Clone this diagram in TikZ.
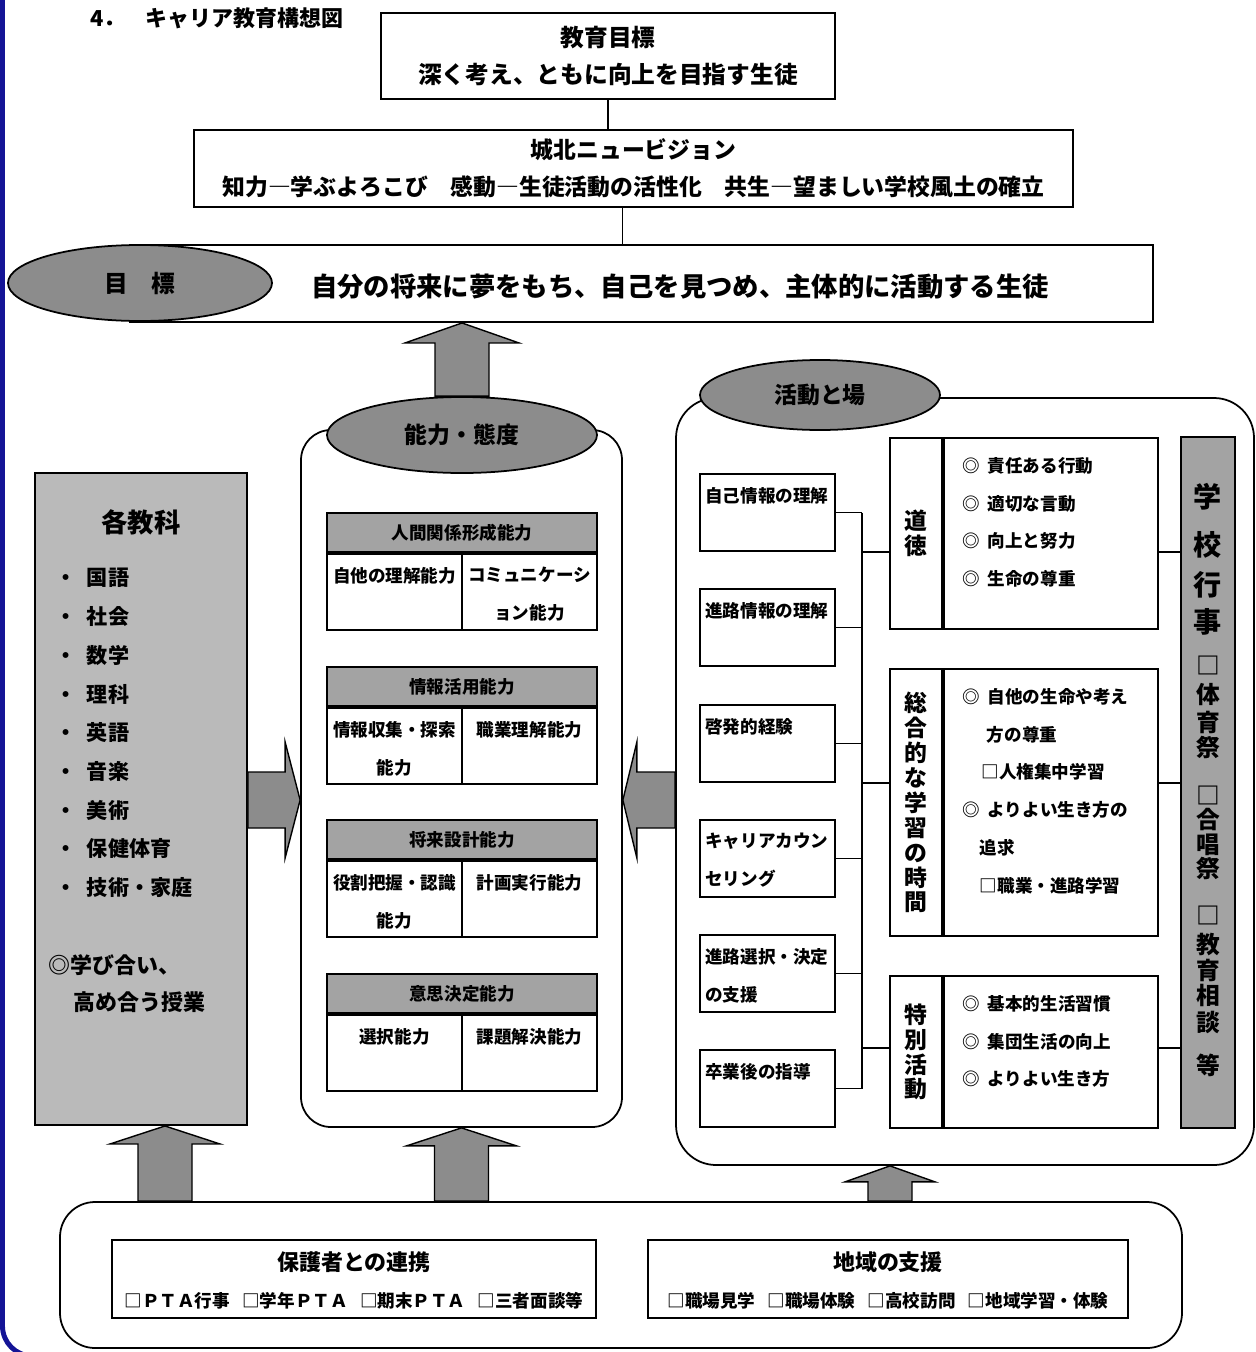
\documentclass[tikz,border=0pt]{standalone}
\usepackage{fontspec}
\setmainfont{Noto Sans CJK JP}
\usepackage{tikz}
\usetikzlibrary{calc,positioning,shapes.geometric}
\definecolor{frameblue}{RGB}{20,20,150}
\newcommand{\maru}{◎\hspace{0.45em}}
\newcommand{\blkup}[5]{\filldraw[blk] (#1) -- ($(#1)+(#4,#5)$) -- ($(#1)+(#3,#5)$) -- ($(#2)+(#3,0)$) -- ($(#2)+(-#3,0)$) -- ($(#1)+(-#3,#5)$) -- ($(#1)+(-#4,#5)$) -- cycle;}
\newcommand{\blkh}[5]{\filldraw[blk] (#1) -- ($(#1)+(#5,#4)$) -- ($(#1)+(#5,#3)$) -- ($(#2)+(0,#3)$) -- ($(#2)+(0,-#3)$) -- ($(#1)+(#5,-#3)$) -- ($(#1)+(#5,-#4)$) -- cycle;}
\tikzset{
 sz/.style 2 args={minimum width=#1*0.02cm, minimum height=#2*0.02cm},
 box/.style={draw, line width=1.1pt, inner sep=0pt},
 panel/.style={draw, line width=1pt, inner sep=0pt},
 shdA/.style={fill=black!36},
 shdB/.style={fill=black!27},
 oval/.style={ellipse, draw, line width=1pt, fill=black!45, inner sep=0pt},
 blk/.style={draw, line width=0.8pt, fill=black!45},
 wire/.style={line width=1pt},
 t10/.style={inner sep=0pt, font=\bfseries\fontsize{10}{21.5}\selectfont},
 t12/.style={inner sep=0pt, font=\bfseries\fontsize{12}{14}\selectfont},
 t125/.style={inner sep=0pt, font=\bfseries\fontsize{12.5}{21}\selectfont},
 t13/.style={inner sep=0pt, font=\bfseries\fontsize{13}{21}\selectfont},
 t135/.style={inner sep=0pt, font=\bfseries\fontsize{13.5}{21.5}\selectfont},
 t15/.style={inner sep=0pt, font=\bfseries\fontsize{15}{18}\selectfont},
 t16/.style={inner sep=0pt, font=\bfseries\fontsize{16}{18}\selectfont},
 vt/.style={inner sep=0pt, align=center, font=\bfseries\fontsize{13}{14.2}\selectfont}
}
\begin{document}
\begin{tikzpicture}[x=0.02cm, y=-0.02cm]
 \useasboundingbox (0,0) rectangle (1256,1352);
 \draw[frameblue, line width=2.8pt, rounded corners=0.6cm] (2.5,-20) -- (2.5,1356) -- (100,1356);
 \node[t125, anchor=west] (title) at (90,18) {4．\hspace{0.9em}キャリア教育構想図};

 \node[box, sz={454}{86}, align=center, t135] (aim) at (608,56) {教育目標\\深く考え、ともに向上を目指す生徒};
 \node[box, sz={879}{77}, align=center, t13] (vision) at (633.5,168.5) {城北ニュービジョン\\知力―学ぶよろこび　感動―生徒活動の活性化　共生―望ましい学校風土の確立};
 \draw[wire] (aim.south) -- (aim.south |- vision.north);
 \node[box, sz={1023}{77}] (goal) at (641.5,283.5) {};
 \node[t15] (goaltxt) at (680,287) {自分の将来に夢をもち、自己を見つめ、主体的に活動する生徒};
 \draw[wire] ($(vision.south)+(-11,0)$) -- ($(vision.south |- goal.north)+(-11,0)$);
 \node[oval, sz={264}{76}, t135] (goaloval) at (140,283) {目　標};

 % abilities
 \node[panel, sz={321}{697}, rounded corners=0.6cm] (ability) at (461.5,778.5) {};
 \node[oval, sz={270}{76}, t13] (abioval) at (462,435) {能力・態度};
 \blkup{abioval.north |- goal.south}{abioval.north}{27}{57}{20}
 \foreach \y/\hd/\la/\lb [count=\i] in {513/人間関係形成能力/自他の理解能力/{コミュニケーシ\\ョン能力},
   667/情報活用能力/{情報収集・探索\\能力}/職業理解能力,
   820/将来設計能力/{役割把握・認識\\能力}/計画実行能力,
   974/意思決定能力/選択能力/課題解決能力}{
  \node[box, shdA, sz={270}{39}, t10] (hd\i) at (462,\y+19.5) {\hd};
  \node[box, sz={135}{76}, anchor=north west] (ca\i) at (hd\i.south west) {};
  \node[box, sz={135}{76}, anchor=north east] (cb\i) at (hd\i.south east) {};
  \node[t10, align=center, anchor=north] (la\i) at ($(ca\i.north)+(0,14)$) {\la};
  \node[t10, align=center, anchor=north] (lb\i) at ($(cb\i.north)+(0,14)$) {\lb};
 }

 % subjects
 \node[box, shdB, sz={212}{652}] (subj) at (141,799) {};
 \node[t15] (subjttl) at (141,522) {各教科};
 \foreach \s [count=\k] in {国語,社会,数学,理科,英語,音楽,美術,保健体育,技術・家庭}
  \node[t12, anchor=west] (sub\k) at (55,539.3+\k*38.7) {・\hspace{0.5em}\s};
 \node[t125, anchor=west] (manabi) at (48,965) {◎学び合い、};
 \node[t125, anchor=west] (takame) at (73,1002) {高め合う授業};

 % activities
 \node[panel, sz={578}{767}, rounded corners=0.8cm] (act) at (965,781.5) {};
 \node[oval, sz={240}{70}, t13] (actoval) at (820,395) {活動と場};
 \node[box, shdA, sz={54}{691}] (gyoji) at (1208,782.5) {};
 \foreach \c/\y [count=\k] in {学/497,校/545,行/585,事/622}
  \node[t16] (gy\k) at (1208,\y) {\c};
 \foreach \c/\y [count=\k] in {□/665,体/695,育/722,祭/748,□/795,合/820,唱/845,祭/868,□/915,教/945,育/970,相/995,談/1022,等/1065}
  \node[t135] (ev\k) at (1208,\y) {\c};

 \coordinate (bus) at (862,0);
 \foreach \y/\t [count=\i] in {474/自己情報の理解, 589/進路情報の理解, 705/啓発的経験, 820/{キャリアカウン\\セリング}, 935/{進路選択・決定\\の支援}, 1050/卒業後の指導}{
  \node[box, sz={135}{77}] (s\i) at (767.5,\y+38.5) {};
  \node[t10, align=left, anchor=north west] (st\i) at ($(s\i.north west)+(6,14)$) {\t};
  \draw[wire] (s\i.east) -- (s\i.east -| bus);
 }
 \draw[wire] (s1.east -| bus) -- (s6.east -| bus);

 \foreach \y/\h/\j/\n/\c [count=\i] in {
   437/191/552/{道\\徳}/{\maru 責任ある行動\\\maru 適切な言動\\\maru 向上と努力\\\maru 生命の尊重},
   668/267/783/{総\\合\\的\\な\\学\\習\\の\\時\\間}/{\maru 自他の生命や考え\\\hspace*{1.4em}方の尊重\\\hspace*{1.1em}□人権集中学習\\\maru よりよい生き方の\\\hspace*{1em}追求\\\hspace*{1em}□職業・進路学習},
   975/152/1048/{特\\別\\活\\動}/{\maru 基本的生活習慣\\\maru 集団生活の向上\\\maru よりよい生き方}}{
  \node[box, sz={52}{\h}, anchor=north west] (nm\i) at (889,\y) {};
  \node[box, sz={214}{\h}, anchor=north west] (ct\i) at (nm\i.north east) {};
  \node[vt] (nt\i) at (nm\i.center) {\n};
  \node[t10, align=left, anchor=north west] (cl\i) at ($(ct\i.north west)+(19,20)$) {\c};
  \draw[wire] (bus |- 0,\j) -- (nm\i.west |- 0,\j);
  \draw[wire] (ct\i.east |- 0,\j) -- (gyoji.west |- 0,\j);
 }

 \blkh{ability.west |- 0,800}{subj.east |- 0,800}{28}{58}{-15}
 \blkh{ability.east |- 0,800}{act.west |- 0,800}{28}{58}{14}

 % support
 \node[panel, sz={1122}{146}, rounded corners=0.7cm] (support) at (621,1275) {};
 \node[box, sz={484}{78}] (home) at (354,1279) {};
 \node[t125] (hometl) at ($(home.north)+(0,23)$) {保護者との連携};
 \node[t10] (homeit) at ($(home.north)+(0,62)$) {□ＰＴＡ行事\hspace{0.7em}□学年ＰＴＡ\hspace{0.7em}□期末ＰＴＡ\hspace{0.7em}□三者面談等};
 \node[box, sz={480}{78}] (area) at (888,1279) {};
 \node[t125] (areatl) at ($(area.north)+(0,23)$) {地域の支援};
 \node[t10] (areait) at ($(area.north)+(0,62)$) {□職場見学\hspace{0.7em}□職場体験\hspace{0.7em}□高校訪問\hspace{0.7em}□地域学習・体験};
 \blkup{subj.south -| 165,0}{support.north -| 165,0}{27}{55}{18}
 \blkup{ability.south}{ability.south |- support.north}{27}{55}{18}
 \blkup{act.south -| 890,0}{support.north -| 890,0}{22}{45}{16}
\end{tikzpicture}
\end{document}
